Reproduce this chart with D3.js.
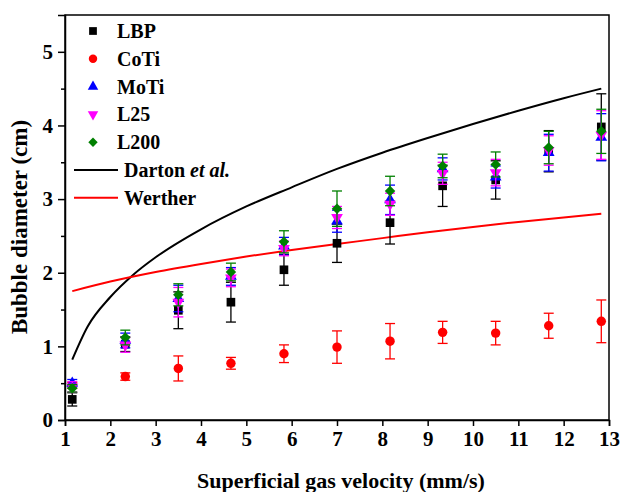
<!DOCTYPE html>
<html>
<head>
<meta charset="utf-8">
<script src="https://cdn.jsdelivr.net/npm/d3@7"></script>
<style>
  html, body { margin: 0; padding: 0; background: #fff; }
  svg { display: block; }
  text { font-family: "Liberation Serif", "Times New Roman", serif; font-weight: bold; }
</style>
</head>
<body>
<svg id="chart" width="621" height="492"></svg>
<script>
// Superficial gas velocity (mm/s) at each measurement
const velocity = [1.16, 2.33, 3.5, 4.66, 5.83, 7.0, 8.17, 9.33, 10.5, 11.67, 12.83];

// Measured mean bubble diameter (cm) and standard deviation per system
const lbp      = [0.28, 1.03, 1.49, 1.60, 2.04, 2.40, 2.68, 3.18, 3.26, 3.65, 3.98];
const lbpErr   = [0.09, 0.10, 0.25, 0.27, 0.21, 0.26, 0.29, 0.28, 0.26, 0.28, 0.45];
const coti     = [0.47, 0.59, 0.70, 0.77, 0.90, 0.99, 1.07, 1.19, 1.18, 1.28, 1.34];
const cotiErr  = [0.04, 0.05, 0.17, 0.08, 0.12, 0.22, 0.24, 0.15, 0.16, 0.17, 0.29];
const moti     = [0.50, 1.08, 1.65, 1.95, 2.36, 2.70, 2.99, 3.41, 3.30, 3.63, 3.84];
const motiErr  = [0.05, 0.10, 0.18, 0.12, 0.12, 0.15, 0.20, 0.15, 0.15, 0.25, 0.32];
const l25      = [0.45, 1.02, 1.60, 1.93, 2.33, 2.75, 2.93, 3.35, 3.36, 3.66, 3.87];
const l25Err   = [0.07, 0.10, 0.20, 0.12, 0.10, 0.15, 0.15, 0.15, 0.18, 0.20, 0.33];
const l200     = [0.43, 1.12, 1.70, 2.01, 2.42, 2.87, 3.11, 3.45, 3.47, 3.70, 3.92];
const l200Err  = [0.05, 0.10, 0.15, 0.12, 0.15, 0.24, 0.20, 0.16, 0.17, 0.22, 0.30];

// Correlation curves (cm) sampled along velocity
const dartonU  = [1.16, 1.5, 2, 2.5, 3, 4, 5, 6, 7, 8, 9, 10, 11, 12, 12.83];
const dartonD  = [0.82, 1.27, 1.67, 1.97, 2.21, 2.59, 2.90, 3.16, 3.41, 3.63, 3.83, 4.02, 4.20, 4.37, 4.50];
const wertherU = [1.16, 2, 3, 4, 5, 6, 7, 8, 9, 10, 11, 12, 12.83];
const wertherD = [1.75, 1.88, 2.01, 2.12, 2.22, 2.31, 2.39, 2.47, 2.55, 2.62, 2.69, 2.75, 2.80];

const xTicks = [1, 2, 3, 4, 5, 6, 7, 8, 9, 10, 11, 12, 13];
const yTicks = [0, 1, 2, 3, 4, 5];
const yMinor = [0.5, 1.5, 2.5, 3.5, 4.5];

const series = [
  { name: "LBP",  values: lbp,  err: lbpErr,  color: "#000000", symbol: d3.symbolSquare,   size: 75, rot: 0 },
  { name: "CoTi", values: coti, err: cotiErr, color: "#ff0000", symbol: d3.symbolCircle,   size: 70, rot: 0 },
  { name: "MoTi", values: moti, err: motiErr, color: "#0000ff", symbol: d3.symbolTriangle, size: 60, rot: 0 },
  { name: "L25",  values: l25,  err: l25Err,  color: "#ff00ff", symbol: d3.symbolTriangle, size: 60, rot: 180 },
  { name: "L200", values: l200, err: l200Err, color: "#008000", symbol: d3.symbolSquare,   size: 55, rot: 45 }
];

const margin = { left: 65, right: 12, top: 15, bottom: 72 };
const W = 621, H = 492;
const svg = d3.select("#chart");

const x = d3.scaleLinear().domain([1, 13]).range([margin.left, W - margin.right]);
const y = d3.scaleLinear().domain([0, 5.5]).range([H - margin.bottom, margin.top]);

const plot = svg.append("g");

// Correlation lines
const line = d3.line().curve(d3.curveMonotoneX);
plot.append("path")
  .attr("d", line(dartonU.map((u, i) => [x(u), y(dartonD[i])])))
  .attr("fill", "none").attr("stroke", "#000").attr("stroke-width", 2);
plot.append("path")
  .attr("d", line(wertherU.map((u, i) => [x(u), y(wertherD[i])])))
  .attr("fill", "none").attr("stroke", "#ff0000").attr("stroke-width", 2);

// Error bars and markers, drawn series by series
const cap = 5;
series.forEach(s => {
  const g = plot.append("g");
  velocity.forEach((u, i) => {
    const cx = x(u);
    const y0 = y(s.values[i] - s.err[i]);
    const y1 = y(s.values[i] + s.err[i]);
    g.append("line").attr("x1", cx).attr("x2", cx).attr("y1", y0).attr("y2", y1)
      .attr("stroke", s.color).attr("stroke-width", 1.3);
    [y0, y1].forEach(yy => g.append("line")
      .attr("x1", cx - cap).attr("x2", cx + cap).attr("y1", yy).attr("y2", yy)
      .attr("stroke", s.color).attr("stroke-width", 1.3));
  });
  const sym = d3.symbol().type(s.symbol).size(s.size);
  g.selectAll("path.m").data(s.values).join("path")
    .attr("class", "m")
    .attr("d", sym)
    .attr("transform", (v, i) => `translate(${x(velocity[i])},${y(v)}) rotate(${s.rot})`)
    .attr("fill", s.color);
});

// Frame
svg.append("rect")
  .attr("x", margin.left).attr("y", margin.top)
  .attr("width", W - margin.right - margin.left)
  .attr("height", H - margin.bottom - margin.top)
  .attr("fill", "none").attr("stroke", "#000").attr("stroke-width", 1.5);

// Axes
const xAxis = svg.append("g")
  .attr("transform", `translate(0,${H - margin.bottom})`)
  .call(d3.axisBottom(x).tickValues(xTicks).tickFormat(d3.format("d")).tickSize(6).tickPadding(5));
const yAxis = svg.append("g")
  .attr("transform", `translate(${margin.left},0)`)
  .call(d3.axisLeft(y).tickValues(yTicks).tickFormat(d3.format("d")).tickSize(7).tickPadding(5));
svg.append("g")
  .attr("transform", `translate(${margin.left},0)`)
  .call(d3.axisLeft(y).tickValues(yMinor).tickFormat("").tickSize(4))
  .call(g => g.select(".domain").remove());

[xAxis, yAxis].forEach(a => {
  a.select(".domain").attr("stroke-width", 1.5);
  a.selectAll(".tick text").attr("font-size", 21).attr("fill", "#000")
    .attr("font-family", "Liberation Serif, serif").attr("font-weight", "bold");
});
svg.selectAll(".tick line").attr("stroke-width", 1.5);

// Axis titles
svg.append("text")
  .attr("x", 341).attr("y", 488)
  .attr("text-anchor", "middle").attr("font-size", 22)
  .text("Superficial gas velocity (mm/s)");
svg.append("text")
  .attr("transform", `translate(27,227) rotate(-90)`)
  .attr("text-anchor", "middle").attr("font-size", 23)
  .text("Bubble diameter (cm)");

// Legend
const legend = svg.append("g");
const lx = 93, ly0 = 31, step = 27.8;
series.forEach((s, i) => {
  const yy = ly0 + i * step;
  const sym = d3.symbol().type(s.symbol).size(s.size * 0.8);
  legend.append("path").attr("d", sym)
    .attr("transform", `translate(${lx},${yy}) rotate(${s.rot})`)
    .attr("fill", s.color);
  legend.append("text").attr("x", 117).attr("y", yy + 7).attr("font-size", 20).text(s.name);
});
const lines = [
  { color: "#000", label: [["Darton ", "normal"], ["et al.", "italic"]] },
  { color: "#ff0000", label: [["Werther", "normal"]] }
];
lines.forEach((l, i) => {
  const yy = ly0 + (5 + i) * step;
  legend.append("line").attr("x1", 74).attr("x2", 118).attr("y1", yy).attr("y2", yy)
    .attr("stroke", l.color).attr("stroke-width", 2);
  const t = legend.append("text").attr("x", 124).attr("y", yy + 7).attr("font-size", 20);
  l.label.forEach(([str, style]) => t.append("tspan").attr("font-style", style).text(str));
});
</script>
</body>
</html>
